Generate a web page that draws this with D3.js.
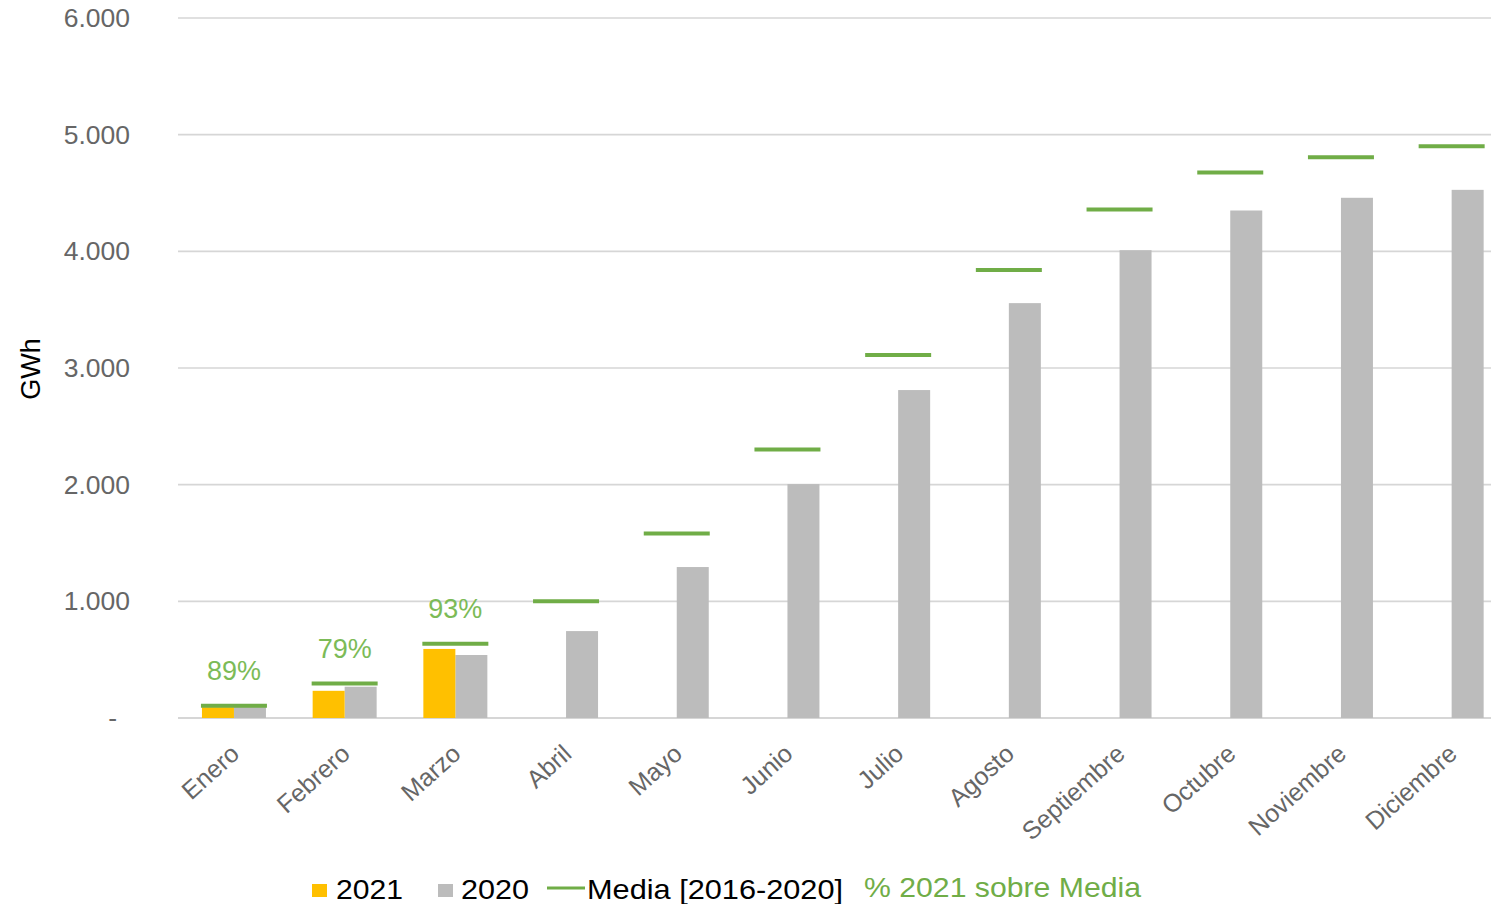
<!DOCTYPE html>
<html><head><meta charset="utf-8">
<script src="https://cdn.jsdelivr.net/npm/d3@7/dist/d3.min.js"></script>
<style>
html,body{margin:0;padding:0;background:#fff;}
svg{display:block;font-family:"Liberation Sans",Arial,Helvetica,sans-serif;}
</style></head>
<body>
<svg id="chart" width="1491" height="904"></svg>
<script>
const months = ["Enero","Febrero","Marzo","Abril","Mayo","Junio","Julio","Agosto","Septiembre","Octubre","Noviembre","Diciembre"];
const values2021 = [93, 233, 592];
const values2020 = [95, 268, 540, 745, 1294, 2005, 2811, 3556, 4010, 4350, 4459, 4527];
const media = [105, 295, 637, 1000, 1581, 2301, 3111, 3839, 4359, 4676, 4807, 4901];
const pctLabels = ["89%", "79%", "93%"];
const yTicks = [0, 1000, 2000, 3000, 4000, 5000, 6000];
const yTickLabels = ["-", "1.000", "2.000", "3.000", "4.000", "5.000", "6.000"];

const svg = d3.select("#chart");
const x = d3.scaleBand().domain(months).range([178.6, 1507]).padding(0);
const y = d3.scaleLinear().domain([0, 6000]).range([718, 18]);
const barW = 32;

// gridlines
svg.append("g").selectAll("line").data(yTicks).join("line")
  .attr("x1", 178).attr("x2", 1491)
  .attr("y1", d => y(d)).attr("y2", d => y(d))
  .attr("stroke", "#d6d6d6").attr("stroke-width", d => d === 0 ? 2.2 : 1.6);

// y tick labels
svg.append("g").selectAll("text").data(yTicks).join("text")
  .attr("x", d => d === 0 ? 117 : 130).attr("y", d => y(d) + 9)
  .attr("text-anchor", "end")
  .attr("font-size", 26.5).attr("fill", "#666666")
  .text((d, i) => yTickLabels[i]);

// y axis title
svg.append("text")
  .attr("transform", "translate(40,369) rotate(-90)")
  .attr("text-anchor", "middle").attr("font-size", 27).attr("fill", "#000")
  .text("GWh");

// 2020 bars
svg.append("g").selectAll("rect").data(values2020).join("rect")
  .attr("x", (d, i) => x(months[i]) + x.bandwidth() / 2)
  .attr("width", barW)
  .attr("y", d => y(d)).attr("height", d => y(0) - y(d))
  .attr("fill", "#bcbcbc");

// 2021 bars
svg.append("g").selectAll("rect").data(values2021).join("rect")
  .attr("x", (d, i) => x(months[i]) + x.bandwidth() / 2 - barW)
  .attr("width", barW)
  .attr("y", d => y(d)).attr("height", d => y(0) - y(d))
  .attr("fill", "#ffc000");

// media lines
svg.append("g").selectAll("line").data(media).join("line")
  .attr("x1", (d, i) => x(months[i]) + x.bandwidth() / 2 - 33)
  .attr("x2", (d, i) => x(months[i]) + x.bandwidth() / 2 + 33)
  .attr("y1", d => y(d)).attr("y2", d => y(d))
  .attr("stroke", "#70ad47").attr("stroke-width", 4);

// pct labels
svg.append("g").selectAll("text").data(pctLabels).join("text")
  .attr("x", (d, i) => x(months[i]) + x.bandwidth() / 2)
  .attr("y", (d, i) => y(media[i]) - 26)
  .attr("text-anchor", "middle").attr("font-size", 27).attr("fill", "#7cbb57")
  .text(d => d);

// x labels
svg.append("g").selectAll("text").data(months).join("text")
  .attr("transform", d => `translate(${x(d) + x.bandwidth() / 2 + 7},${756}) rotate(-42)`)
  .attr("text-anchor", "end").attr("font-size", 25).attr("fill", "#666666")
  .text(d => d);

// legend
const lg = svg.append("g");
lg.append("rect").attr("x", 312).attr("y", 884).attr("width", 15).attr("height", 13).attr("fill", "#ffc000");
lg.append("text").attr("x", 336).attr("y", 899).attr("font-size", 28).attr("fill", "#000")
  .attr("textLength", 67).attr("lengthAdjust", "spacingAndGlyphs").text("2021");
lg.append("rect").attr("x", 438).attr("y", 884).attr("width", 15).attr("height", 13).attr("fill", "#bcbcbc");
lg.append("text").attr("x", 461).attr("y", 899).attr("font-size", 28).attr("fill", "#000")
  .attr("textLength", 68).attr("lengthAdjust", "spacingAndGlyphs").text("2020");
lg.append("line").attr("x1", 547).attr("x2", 585).attr("y1", 888).attr("y2", 888)
  .attr("stroke", "#70ad47").attr("stroke-width", 3);
lg.append("text").attr("x", 587).attr("y", 899).attr("font-size", 28).attr("fill", "#000")
  .attr("textLength", 256).attr("lengthAdjust", "spacingAndGlyphs").text("Media [2016-2020]");
lg.append("text").attr("x", 864).attr("y", 897).attr("font-size", 28).attr("fill", "#70ad47")
  .attr("textLength", 277).attr("lengthAdjust", "spacingAndGlyphs").text("% 2021 sobre Media");
</script>
</body></html>
